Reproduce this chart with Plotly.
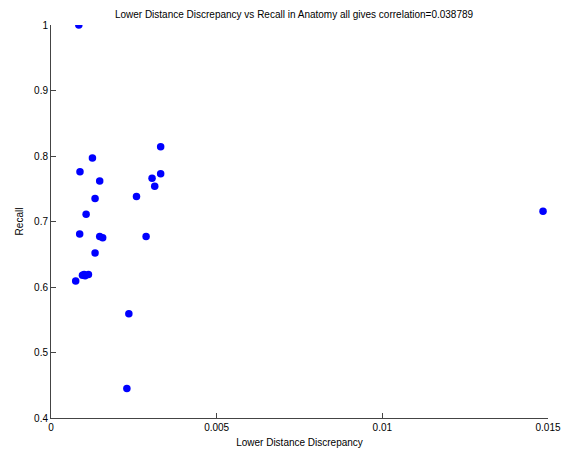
import plotly.graph_objects as go

# Lower distance discrepancy vs recall, one point per Anatomy run
discrepancy = [0.00084, 0.000875, 0.00125, 0.00147, 0.00133, 0.00106, 0.000866,
               0.00147, 0.00156, 0.00133, 0.000745, 0.00095, 0.00100, 0.00103,
               0.00113, 0.00258, 0.00287, 0.00305, 0.00313, 0.00331, 0.00331,
               0.00235, 0.00229, 0.01485]
recall = [1.0, 0.776, 0.797, 0.762, 0.735, 0.711, 0.681,
          0.677, 0.675, 0.652, 0.609, 0.618, 0.619, 0.617,
          0.619, 0.738, 0.677, 0.766, 0.754, 0.773, 0.814,
          0.559, 0.445, 0.7156]

x_ticks = [0, 0.005, 0.01, 0.015]
x_ticklabels = ["0", "0.005", "0.01", "0.015"]
y_ticks = [0.4, 0.5, 0.6, 0.7, 0.8, 0.9, 1.0]
y_ticklabels = ["0.4", "0.5", "0.6", "0.7", "0.8", "0.9", "1"]

font = "Liberation Sans, Arial, sans-serif"
axis_color = "#444444"

fig = go.Figure(
    go.Scatter(
        x=discrepancy,
        y=recall,
        mode="markers",
        marker=dict(color="#0000ff", size=7.5, line=dict(width=0)),
        hoverinfo="x+y",
    )
)

fig.update_layout(
    width=565,
    height=452,
    margin=dict(l=51, r=17, t=25, b=34, autoexpand=False),
    paper_bgcolor="white",
    plot_bgcolor="white",
    showlegend=False,
    font=dict(family=font, size=10, color="black"),
    title=dict(
        text="Lower Distance Discrepancy vs Recall in Anatomy all gives correlation=0.038789",
        x=294 / 565,
        xanchor="center",
        xref="container",
        y=1 - 14 / 452,
        yanchor="middle",
        yref="container",
        font=dict(family=font, size=10, color="black"),
    ),
    xaxis=dict(
        range=[0, 0.015],
        tickvals=x_ticks,
        ticktext=x_ticklabels,
        ticks="inside",
        ticklen=5,
        tickcolor=axis_color,
        showline=True,
        linecolor=axis_color,
        linewidth=1,
        showgrid=False,
        zeroline=False,
        automargin=False,
        title=dict(text="Lower Distance Discrepancy", standoff=6,
                   font=dict(family=font, size=10)),
    ),
    yaxis=dict(
        range=[0.4, 1.0],
        tickvals=y_ticks,
        ticktext=y_ticklabels,
        ticks="inside",
        ticklen=5,
        tickcolor=axis_color,
        showline=True,
        linecolor=axis_color,
        linewidth=1,
        showgrid=False,
        zeroline=False,
        automargin=False,
        title=dict(text="Recall", standoff=8,
                   font=dict(family=font, size=10)),
    ),
)

fig.write_html("out.html")
